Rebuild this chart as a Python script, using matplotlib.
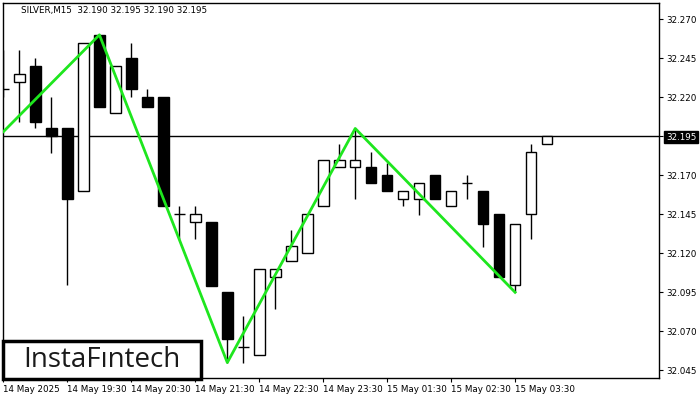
import matplotlib
matplotlib.use("Agg")
import matplotlib.pyplot as plt
from matplotlib.patches import Rectangle

# SILVER M15 candles
opens = [32.225, 32.230, 32.240, 32.200, 32.200, 32.160, 32.260, 32.210, 32.245, 32.220,
         32.220, 32.145, 32.140, 32.140, 32.095, 32.060, 32.055, 32.105, 32.115, 32.120,
         32.150, 32.175, 32.175, 32.175, 32.170, 32.155, 32.155, 32.170, 32.150, 32.165,
         32.160, 32.145, 32.100, 32.145, 32.190]
highs = [32.250, 32.250, 32.245, 32.220, 32.200, 32.255, 32.260, 32.240, 32.255, 32.225,
         32.220, 32.150, 32.150, 32.140, 32.095, 32.080, 32.110, 32.110, 32.135, 32.145,
         32.180, 32.190, 32.200, 32.185, 32.178, 32.160, 32.165, 32.170, 32.160, 32.170,
         32.160, 32.145, 32.139, 32.190, 32.195]
lows = [32.220, 32.204, 32.200, 32.184, 32.100, 32.160, 32.214, 32.210, 32.220, 32.214,
        32.150, 32.129, 32.129, 32.099, 32.050, 32.050, 32.055, 32.084, 32.115, 32.120,
        32.150, 32.175, 32.155, 32.165, 32.160, 32.150, 32.1445, 32.155, 32.150, 32.155,
        32.124, 32.105, 32.095, 32.129, 32.190]
closes = [32.225, 32.235, 32.204, 32.195, 32.155, 32.255, 32.214, 32.240, 32.225, 32.214,
          32.150, 32.145, 32.145, 32.099, 32.065, 32.060, 32.110, 32.110, 32.125, 32.145,
          32.180, 32.180, 32.180, 32.165, 32.160, 32.160, 32.165, 32.155, 32.160, 32.165,
          32.139, 32.105, 32.139, 32.185, 32.195]

# pattern zigzag (bar index, price)
zig_bars = [0, 6, 14, 22, 32]
zig_prices = [32.198, 32.260, 32.050, 32.200, 32.095]

last_price = 32.195
title = "SILVER,M15  32.190 32.195 32.190 32.195"

tick_bars = [0, 4, 8, 12, 16, 20, 24, 28, 32]
tick_labels = ["14 May 2025", "14 May 19:30", "14 May 20:30", "14 May 21:30",
               "14 May 22:30", "14 May 23:30", "15 May 01:30", "15 May 02:30",
               "15 May 03:30"]
price_ticks = [32.045, 32.070, 32.095, 32.120, 32.145, 32.170, 32.195, 32.220, 32.245, 32.270]

plt.rcParams['font.family'] = ['DejaVu Sans']
fig = plt.figure(figsize=(7, 4), dpi=100)
ax = fig.add_axes([3 / 700, 22 / 400, 656 / 700, 375 / 400])

w = 0.66
for i in range(len(opens)):
    o, h, l, c = opens[i], highs[i], lows[i], closes[i]
    ax.vlines(i, l, h, color='black', lw=1, zorder=2)
    if abs(o - c) < 1e-9:
        ax.hlines(o, i - w / 2, i + w / 2, color='black', lw=1, zorder=3)
    else:
        face = 'white' if c > o else 'black'
        ax.add_patch(Rectangle((i - w / 2, min(o, c)), w, abs(c - o),
                               facecolor=face, edgecolor='black', lw=1, zorder=3))

ax.axhline(last_price, color='black', lw=1, zorder=1)
ax.plot(zig_bars, zig_prices, color='#1ee61e', lw=2, zorder=4)

ax.set_xlim(-0.03, 41.0)
ax.set_ylim(32.0401, 32.2804)

ax.yaxis.tick_right()
ax.set_yticks(price_ticks)
ax.set_yticklabels([f"{p:.3f}" for p in price_ticks])
ax.set_xticks(tick_bars)
ax.set_xticklabels(tick_labels, ha='left')
ax.tick_params(axis='both', labelsize=6.3, length=3, width=0.8, pad=2, colors='black')
for lab in ax.get_yticklabels():
    if lab.get_text() == f"{last_price:.3f}":
        lab.set_color('white')
        lab.set_bbox(dict(facecolor='black', edgecolor='black', pad=1.2))
for sp in ax.spines.values():
    sp.set_linewidth(1)

ax.text(18 / 656, 1 - 8 / 375, title, transform=ax.transAxes, fontsize=6.3,
        va='center', ha='left')

# logo box
fig.patches.append(Rectangle((3 / 700, 1 - 379 / 400), 198 / 700, 38 / 400,
                             transform=fig.transFigure, facecolor='white',
                             edgecolor='black', lw=2.5, zorder=10))
fig.text(102 / 700, 1 - 360 / 400, "InstaF\u0131ntech", fontsize=20, color='#1a1a1a',
         family=['Open Sans', 'DejaVu Sans'], fontweight='medium',
         ha='center', va='center', zorder=11)

fig.savefig("out.png", dpi=100)
